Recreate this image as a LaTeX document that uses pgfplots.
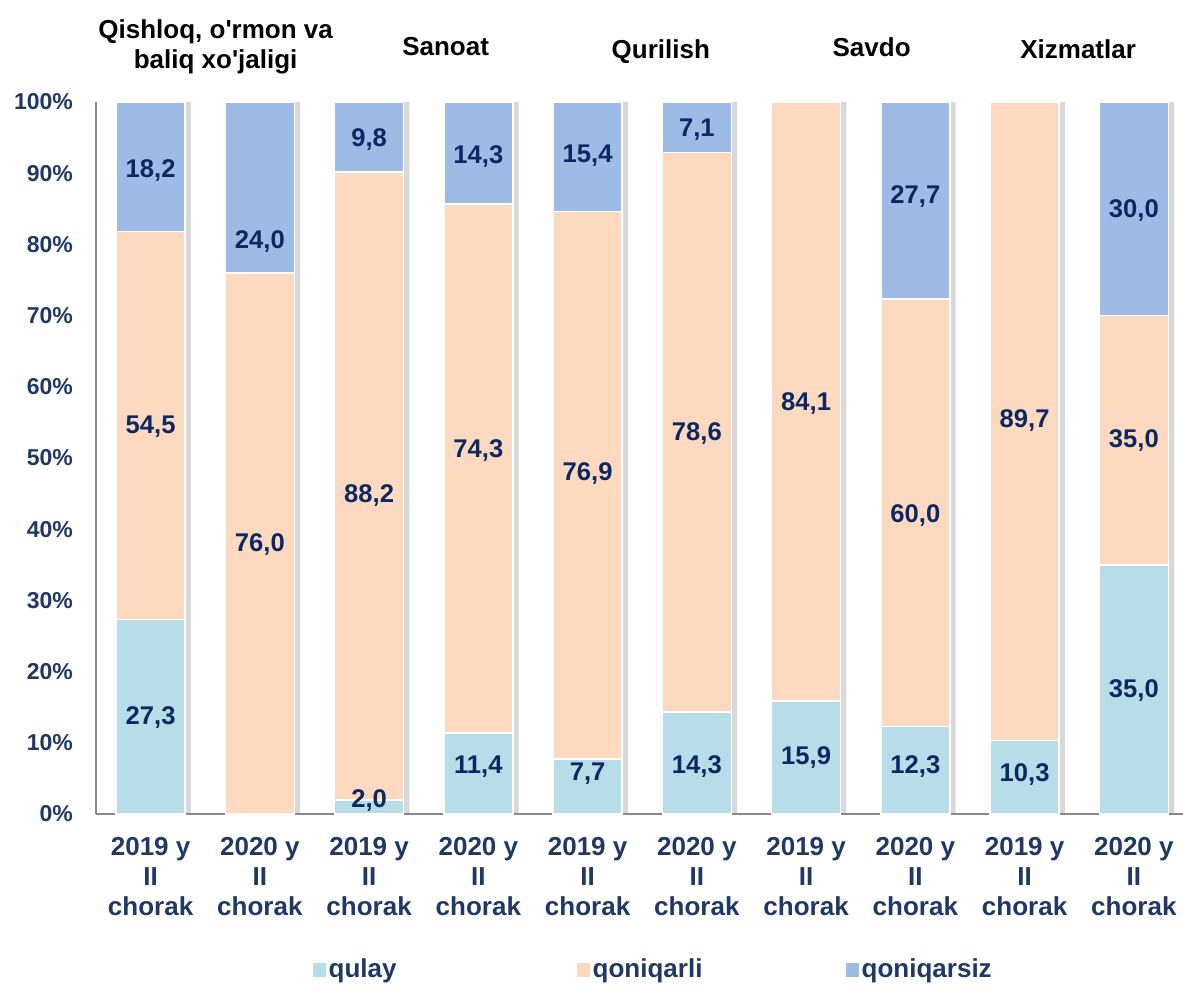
\documentclass[border=0pt]{standalone}
\usepackage{pgfplots}
\usepackage{pgfplotstable}
\pgfplotsset{compat=1.18}
\usepackage{fontspec}
\setmainfont{Liberation Sans}
\definecolor{cqulay}{HTML}{B7DDE8}
\definecolor{cqoniq}{HTML}{FCD9BF}
\definecolor{cqoniqs}{HTML}{9DBBE5}
\definecolor{lab}{HTML}{0C2862}
\definecolor{tickc}{HTML}{1F3864}
\definecolor{axl}{HTML}{898989}

\pgfplotstableread{
x y
1 27.3
2 0
3 2.0
4 11.4
5 7.7
6 14.3
7 15.9
8 12.3
9 10.3
10 35.0
}\qulay
\pgfplotstableread{
x y
1 54.5
2 76.0
3 88.2
4 74.3
5 76.9
6 78.6
7 84.1
8 60.0
9 89.7
10 35.0
}\qoniqarli
\pgfplotstableread{
x y
1 18.2
2 24.0
3 9.8
4 14.3
5 15.4
6 7.1
7 0
8 27.7
9 0
10 30.0
}\qoniqarsiz
\pgfplotstableread{
x y lab
1 13.5 27,3
1 54.4 54,5
1 90.4 18,2
2 37.9 76,0
2 80.4 24,0
3 1.9 2,0
3 44.7 88,2
3 94.7 9,8
4 6.7 11,4
4 51.0 74,3
4 92.4 14,3
5 5.6 7,7
5 47.8 76,9
5 92.4 15,4
6 6.7 14,3
6 53.4 78,6
6 96.1 7,1
7 7.9 15,9
7 57.7 84,1
8 6.7 12,3
8 41.9 60,0
8 86.7 27,7
9 5.6 10,3
9 55.3 89,7
10 17.4 35,0
10 52.5 35,0
10 84.7 30,0
}\labels
\pgfplotstableread{
x y
1 100
2 100
3 100
4 100
5 100
6 100
7 100
8 100
9 100
10 100
}\shadow

\pgfplotsset{base/.style={width=543.5pt,height=356pt,scale only axis,
  xmin=0.5,xmax=10.45,ymin=0,ymax=100,clip=false,at={(0,0)},anchor=south west}}

\begin{document}
\begin{tikzpicture}
\useasboundingbox (-48pt,-85.5pt) rectangle (543.5pt,407pt);
% shadows
\begin{axis}[base, hide axis]
\addplot[ybar, bar width=3pt, bar shift=18.6pt, fill=black!25, draw=none, opacity=0.6] table[x=x,y=y] {\shadow};
\end{axis}
% bars
\begin{axis}[base, ybar stacked, bar width=34.5pt,
  axis x line*=bottom, axis y line*=left,
  axis line style={axl, line width=1pt},
  major tick length=0pt,
  xtick={1,...,10},
  xticklabels={{2019 y\\II\\chorak},{2020 y\\II\\chorak},{2019 y\\II\\chorak},{2020 y\\II\\chorak},{2019 y\\II\\chorak},{2020 y\\II\\chorak},{2019 y\\II\\chorak},{2020 y\\II\\chorak},{2019 y\\II\\chorak},{2020 y\\II\\chorak}},
  xticklabel style={align=center, font=\fontsize{13}{15}\selectfont\bfseries, text=tickc, yshift=-8pt},
  ytick={0,10,...,100},
  yticklabels={0\%,10\%,20\%,30\%,40\%,50\%,60\%,70\%,80\%,90\%,100\%},
  yticklabel style={font=\fontsize{11.5}{13}\selectfont\bfseries, text=tickc, xshift=-8pt},
  legend columns=3,
  legend style={at={(0.199,-0.219)}, anchor=west, draw=none, fill=none,
    font=\fontsize{13}{15}\selectfont\bfseries, text=tickc, inner sep=0pt,
    nodes={inner sep=1.5pt}},
  legend image code/.code={\path[#1,draw=none] (0pt,-3.3pt) rectangle (6.5pt,3.3pt);},
]
\addplot[fill=cqulay, draw=white, line width=0.8pt] table[x=x,y=y] {\qulay};
\addlegendentry{\makebox[122.5pt][l]{qulay}}
\addplot[fill=cqoniq, draw=white, line width=0.8pt] table[x=x,y=y] {\qoniqarli};
\addlegendentry{\makebox[125pt][l]{qoniqarli}}
\addplot[fill=cqoniqs, draw=white, line width=0.8pt] table[x=x,y=y] {\qoniqarsiz};
\addlegendentry{\makebox[120pt][l]{qoniqarsiz}}
\end{axis}
% labels and titles
\begin{axis}[base, hide axis]
\addplot[draw=none, mark=none, nodes near coords, point meta=explicit symbolic,
  nodes near coords align=center,
  every node near coord/.append style={font=\fontsize{12.8}{14}\selectfont\bfseries, text=lab, anchor=center}]
  table[x=x,y=y,meta=lab] {\labels};
\begin{scope}[font=\fontsize{13}{15}\selectfont\bfseries, align=center]
\node at (axis cs:1.595,107.7) {Qishloq, o\textquotesingle rmon va\\baliq xo\textquotesingle jaligi};
\node at (axis cs:3.70,107.8) {Sanoat};
\node at (axis cs:5.67,107.1) {Qurilish};
\node at (axis cs:7.60,107.7) {Savdo};
\node at (axis cs:9.49,107.4) {Xizmatlar};
\end{scope}
\end{axis}
\end{tikzpicture}
\end{document}
